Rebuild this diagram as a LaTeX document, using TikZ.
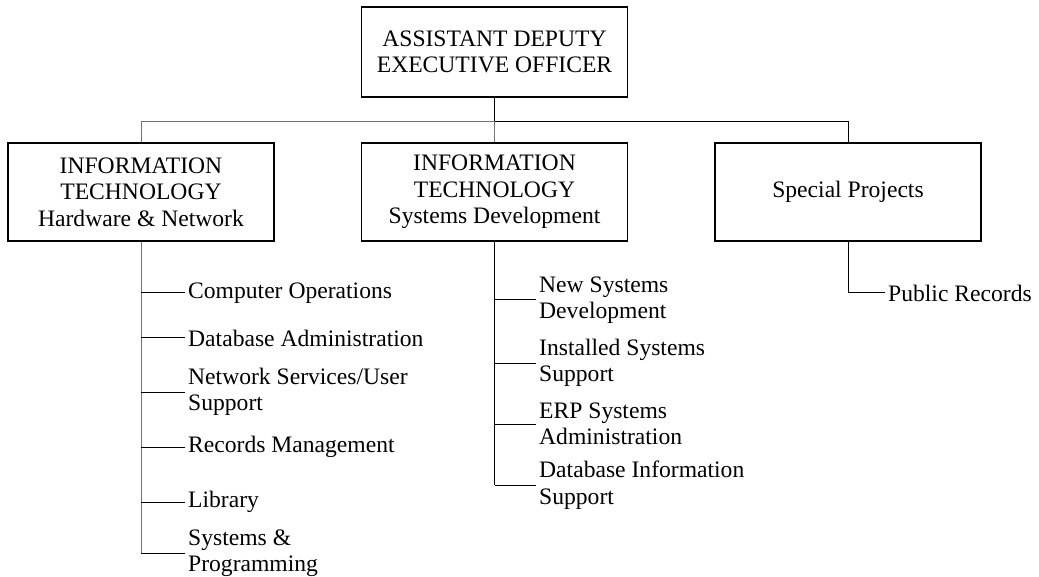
\documentclass[tikz,border=0pt]{standalone}
\usepackage{fontspec}
\setmainfont{Liberation Serif}
\usepackage{tikz}
\usetikzlibrary{positioning,calc}
\definecolor{linegray}{gray}{0.45}

\tikzset{
  unitbox/.style={draw, line width=1.6pt, align=center, minimum width=266pt, minimum height=98pt, inner sep=2pt},
  item/.style={anchor=west, align=left, inner xsep=3pt, inner ysep=0pt},
  branch/.style={line width=1pt},
}

\begin{document}
\begin{tikzpicture}[x=1pt,y=-1pt,font=\fontsize{23.6pt}{26.5pt}\selectfont]
\useasboundingbox (0,0) rectangle (1039,577);
% boxes
\node[unitbox, minimum height=90pt] (adeo) at (494.5,52) {ASSISTANT DEPUTY\\EXECUTIVE OFFICER};
\node[unitbox] (ithw) at (141,192) {INFORMATION\\TECHNOLOGY\\Hardware \& Network};
\node[unitbox] (itsd) at (494.5,192) {INFORMATION\\TECHNOLOGY\\Systems Development};
\node[unitbox] (spec) at (848,192) {Special Projects};
\coordinate (bus) at (494.5,122);
\draw[branch] (adeo.south) -- (bus);
\draw[branch, linegray] (bus) -| (ithw.north);
\draw[branch, linegray] (bus) -- (itsd.north);
\draw[branch] (bus) -| (spec.north);

% hardware & network
\node[item] (comp) at (185,293) {Computer Operations};
\node[item] (dbad) at (185,338) {Database Administration};
\node[item] (nets) at (185,392) {Network Services/User\\Support};
\node[item] (recm) at (185,447) {Records Management};
\node[item] (libr) at (185,502) {Library};
\node[item] (sysp) at (185,553) {Systems \&\\Programming};
\draw[branch, linegray] (ithw.south) -- (ithw.south |- sysp.west);
\foreach \n in {comp,dbad,nets,recm,libr,sysp}
  \draw[branch] (ithw.south |- \n.west) -- (\n.west);

% systems development
\node[item] (news) at (536,300) {New Systems\\Development};
\node[item] (inst) at (536,363) {Installed Systems\\Support};
\node[item] (erps) at (536,424) {ERP Systems\\Administration};
\node[item] (dbin) at (536,485) {Database Information\\Support};
\draw[branch] (itsd.south) -- (itsd.south |- dbin.west);
\foreach \n in {news,inst,erps,dbin}
  \draw[branch] (itsd.south |- \n.west) -- (\n.west);

% special projects
\node[item] (pubr) at (885,293) {Public Records};
\draw[branch] (spec.south) |- (pubr.west);
\end{tikzpicture}
\end{document}
